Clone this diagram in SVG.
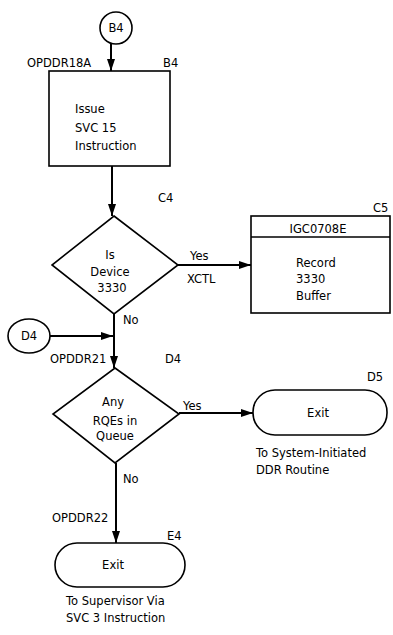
<svg xmlns="http://www.w3.org/2000/svg" width="393" height="635" viewBox="0 0 393 635">
<style>
  .shape { fill: #fff; stroke: #000; stroke-width: 1.6; }
  .conn { fill: none; stroke: #000; stroke-width: 2; }
  text { font-family: "DejaVu Sans", "Liberation Sans", sans-serif; font-size: 11.5px; fill: #000; }
  .m { text-anchor: middle; }
</style>
<defs>
  <marker id="arr" viewBox="0 0 12 8" refX="12" refY="4" markerWidth="12" markerHeight="8" markerUnits="userSpaceOnUse" orient="auto">
    <path d="M0,0 L12,4 L0,8 Z" fill="#000"/>
  </marker>
</defs>
<rect width="393" height="635" fill="#fff"/>

<g id="connectors">
  <line class="conn" x1="111" y1="44" x2="111" y2="71" marker-end="url(#arr)"/>
  <line class="conn" x1="112" y1="166" x2="112" y2="216" marker-end="url(#arr)"/>
  <line class="conn" x1="178" y1="265" x2="251" y2="265" marker-end="url(#arr)"/>
  <line class="conn" x1="114" y1="314" x2="114" y2="368" marker-end="url(#arr)"/>
  <line class="conn" x1="50" y1="336" x2="113" y2="336" marker-end="url(#arr)"/>
  <line class="conn" x1="179" y1="413" x2="253" y2="413" marker-end="url(#arr)"/>
  <line class="conn" x1="116" y1="463" x2="116" y2="543" marker-end="url(#arr)"/>
  <text x="190" y="260">Yes</text>
  <text x="187" y="283">XCTL</text>
  <text x="123" y="324">No</text>
  <text x="183" y="410">Yes</text>
  <text x="123" y="483">No</text>
</g>

<g id="B4-connector">
  <circle class="shape" cx="116" cy="28" r="16"/>
  <text class="m" x="116" y="32">B4</text>
</g>

<g id="B4-box">
  <rect class="shape" x="49" y="71" width="121" height="95"/>
  <text x="27" y="67">OPDDR18A</text>
  <text x="163" y="67">B4</text>
  <text x="75" y="113">Issue</text>
  <text x="75" y="132">SVC 15</text>
  <text x="75" y="150">Instruction</text>
</g>

<g id="C4-decision">
  <polygon class="shape" points="114,216 178,265 114,314 52,265"/>
  <text x="158" y="202">C4</text>
  <text class="m" x="110" y="259">Is</text>
  <text class="m" x="110" y="276">Device</text>
  <text class="m" x="112" y="292">3330</text>
</g>

<g id="C5-box">
  <rect class="shape" x="251" y="216" width="139" height="97"/>
  <line class="shape" x1="251" y1="237" x2="390" y2="237"/>
  <text x="373" y="212">C5</text>
  <text class="m" x="318" y="233">IGC0708E</text>
  <text x="296" y="267">Record</text>
  <text x="296" y="283">3330</text>
  <text x="296" y="300">Buffer</text>
</g>

<g id="D4-connector">
  <ellipse class="shape" cx="29" cy="336" rx="21" ry="17"/>
  <text class="m" x="29" y="340">D4</text>
</g>

<g id="D4-decision">
  <polygon class="shape" points="115,368 179,414 115,463 53,414"/>
  <text x="50" y="363">OPDDR21</text>
  <text x="165" y="363">D4</text>
  <text class="m" x="113" y="406">Any</text>
  <text class="m" x="115" y="425">RQEs in</text>
  <text class="m" x="115" y="440">Queue</text>
</g>

<g id="D5-exit">
  <rect class="shape" x="253" y="390" width="134" height="45" rx="22" ry="22"/>
  <text x="367" y="381">D5</text>
  <text class="m" x="318" y="417">Exit</text>
  <text x="256" y="457">To System-Initiated</text>
  <text x="256" y="474">DDR Routine</text>
</g>

<g id="E4-exit">
  <rect class="shape" x="55" y="543" width="130" height="44" rx="22" ry="22"/>
  <text x="52" y="522">OPDDR22</text>
  <text x="167" y="540">E4</text>
  <text class="m" x="113" y="569">Exit</text>
  <text x="66" y="605">To Supervisor Via</text>
  <text x="66" y="622">SVC 3 Instruction</text>
</g>
</svg>
